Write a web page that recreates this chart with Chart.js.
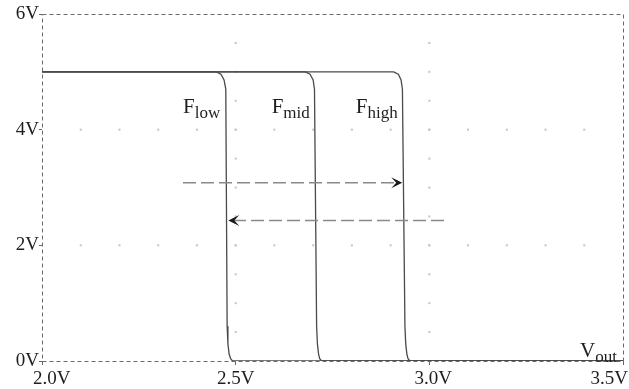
<!DOCTYPE html>
<html>
<head>
<meta charset="utf-8">
<script src="https://cdn.jsdelivr.net/npm/chart.js@4.4.1/dist/chart.umd.min.js"></script>
<style>
  html, body { margin: 0; padding: 0; background: #fff; }
  #wrap { width: 629px; height: 389px; }
</style>
</head>
<body>
<div id="wrap"><canvas id="vtc"></canvas></div>
<script>
// transfer curves: input sweep (V) vs output (V)
const lowX  = [2.0, 2.45, 2.462, 2.470, 2.4745, 2.478, 2.480, 2.483, 2.487, 2.492, 3.5];
const lowY  = [5.0, 5.0, 4.96, 4.86, 4.70, 0.60, 0.30, 0.12, 0.04, 0.0, 0.0];
const midX  = [2.0, 2.680, 2.692, 2.700, 2.7035, 2.709, 2.711, 2.714, 2.717, 2.722, 3.5];
const midY  = [5.0, 5.0, 4.96, 4.86, 4.70, 0.60, 0.30, 0.12, 0.04, 0.0, 0.0];
const highX = [2.0, 2.908, 2.920, 2.927, 2.9305, 2.937, 2.939, 2.942, 2.945, 2.950, 3.5];
const highY = [5.0, 5.0, 4.96, 4.86, 4.70, 0.60, 0.30, 0.12, 0.04, 0.0, 0.0];

const xTicks = [2.0, 2.5, 3.0, 3.5];
const xTickLabels = ['2.0V', '2.5V', '3.0V', '3.5V'];
const yTicks = [0, 2, 4, 6];

// dotted grid: dots along the 2V/4V rows and the 2.5V/3.0V columns
const dotRowX = [2.1, 2.2, 2.3, 2.4, 2.5, 2.6, 2.7, 2.8, 2.9, 3.0, 3.1, 3.2, 3.3, 3.4];
const dotColY = [0.5, 1.0, 1.5, 2.0, 2.5, 3.0, 3.5, 4.0, 4.5, 5.0, 5.5];

// sweep arrows [fromX, toX, y]
const upArrow = [2.364, 2.930, 3.08];
const downArrow = [3.038, 2.481, 2.43];

// curve labels [main, sub, x, y]
const curveLabels = [
  ['F', 'low', 2.364, 4.29],
  ['F', 'mid', 2.593, 4.29],
  ['F', 'high', 2.810, 4.29]
];
const axisLabel = ['V', 'out', 3.389, 0.07];

function toPts(xs, ys) {
  return xs.map((x, i) => ({ x: x, y: ys[i] }));
}

const serif = '"Liberation Serif", "DejaVu Serif", serif';

function drawSub(ctx, main, sub, x, y) {
  ctx.textAlign = 'left';
  ctx.textBaseline = 'alphabetic';
  ctx.font = '21px ' + serif;
  ctx.fillText(main, x, y);
  const w = ctx.measureText(main).width;
  ctx.font = '17px ' + serif;
  ctx.fillText(sub, x + w, y + 5);
}

function drawArrow(ctx, xs, a) {
  const sx = xs.x, sy = xs.y;
  const x1 = sx.getPixelForValue(a[0]), x2 = sx.getPixelForValue(a[1]);
  const y = sy.getPixelForValue(a[2]);
  const dir = x2 > x1 ? 1 : -1;
  ctx.save();
  ctx.strokeStyle = '#8a8a8a';
  ctx.lineWidth = 1.5;
  ctx.setLineDash([13, 5]);
  ctx.beginPath();
  ctx.moveTo(x1, y);
  ctx.lineTo(x2 - dir * 4, y);
  ctx.stroke();
  ctx.setLineDash([]);
  // barbed head
  ctx.fillStyle = '#1a1a1a';
  ctx.beginPath();
  ctx.moveTo(x2, y);
  ctx.lineTo(x2 - dir * 11, y - 5.5);
  ctx.lineTo(x2 - dir * 6, y);
  ctx.lineTo(x2 - dir * 11, y + 5.5);
  ctx.closePath();
  ctx.fill();
  ctx.restore();
}

const decor = {
  id: 'decor',
  beforeDatasetsDraw(chart) {
    const { ctx, chartArea: a, scales } = chart;
    const sx = scales.x, sy = scales.y;
    ctx.save();
    // dotted grid
    ctx.fillStyle = '#c4c4c4';
    [2, 4].forEach(v => {
      const py = sy.getPixelForValue(v);
      dotRowX.forEach(x => ctx.fillRect(sx.getPixelForValue(x) - 1, py - 1, 2, 2));
    });
    [2.5, 3.0].forEach(v => {
      const px = sx.getPixelForValue(v);
      dotColY.forEach(y => ctx.fillRect(px - 1, sy.getPixelForValue(y) - 1, 2, 2));
    });
    // dashed frame
    ctx.strokeStyle = '#6a6a6a';
    ctx.lineWidth = 1;
    ctx.setLineDash([4, 3]);
    ctx.strokeRect(Math.round(a.left) + 0.5, Math.round(a.top) + 0.5,
      Math.round(a.width), Math.round(a.height));
    ctx.restore();
  },
  afterDatasetsDraw(chart) {
    const { ctx, scales } = chart;
    const sx = scales.x, sy = scales.y;
    drawArrow(ctx, scales, upArrow);
    drawArrow(ctx, scales, downArrow);
    ctx.save();
    ctx.fillStyle = '#1e1e1e';
    curveLabels.forEach(l => {
      drawSub(ctx, l[0], l[1], sx.getPixelForValue(l[2]), sy.getPixelForValue(l[3]));
    });
    drawSub(ctx, axisLabel[0], axisLabel[1], sx.getPixelForValue(axisLabel[2]), sy.getPixelForValue(axisLabel[3]));
    // x tick labels, kept inside the canvas at both ends
    ctx.font = '19px ' + serif;
    ctx.textAlign = 'left';
    ctx.textBaseline = 'alphabetic';
    xTicks.forEach((v, i) => {
      const w = ctx.measureText(xTickLabels[i]).width;
      let left = sx.getPixelForValue(v) - w / 2;
      left = Math.max(33, Math.min(628 - w, left));
      ctx.fillText(xTickLabels[i], left + (i === 2 ? 4 : 0), 384);
    });
    ctx.restore();
  }
};

const lineStyle = {
  borderColor: '#4a4a4a',
  borderWidth: 1.3,
  pointRadius: 0,
  showLine: true,
  tension: 0,
  fill: false
};

new Chart(document.getElementById('vtc'), {
  type: 'scatter',
  data: {
    datasets: [
      Object.assign({ label: 'Flow', data: toPts(lowX, lowY) }, lineStyle),
      Object.assign({ label: 'Fmid', data: toPts(midX, midY) }, lineStyle),
      Object.assign({ label: 'Fhigh', data: toPts(highX, highY) }, lineStyle)
    ]
  },
  options: {
    responsive: true,
    maintainAspectRatio: false,
    animation: false,
    layout: { padding: { left: 0, right: 6, top: 14, bottom: 0 } },
    plugins: { legend: { display: false }, tooltip: { enabled: false } },
    scales: {
      x: {
        type: 'linear',
        min: 2.0,
        max: 3.5,
        afterBuildTicks: s => { s.ticks = xTicks.map(v => ({ value: v })); },
        afterFit: s => { s.height = 28; s.paddingLeft = 0; s.paddingRight = 0; },
        ticks: { display: false },
        border: { display: false },
        grid: { drawOnChartArea: false, drawTicks: true, tickLength: 4, color: '#666' }
      },
      y: {
        min: 0,
        max: 6,
        afterBuildTicks: s => { s.ticks = yTicks.map(v => ({ value: v })); },
        afterFit: s => { s.width = 42; },
        ticks: {
          padding: 0,
          color: '#1e1e1e',
          font: { family: serif, size: 19 },
          callback: v => v + 'V'
        },
        border: { display: false },
        grid: { drawOnChartArea: false, drawTicks: true, tickLength: 3, color: '#666' }
      }
    }
  },
  plugins: [decor]
});
</script>
</body>
</html>
